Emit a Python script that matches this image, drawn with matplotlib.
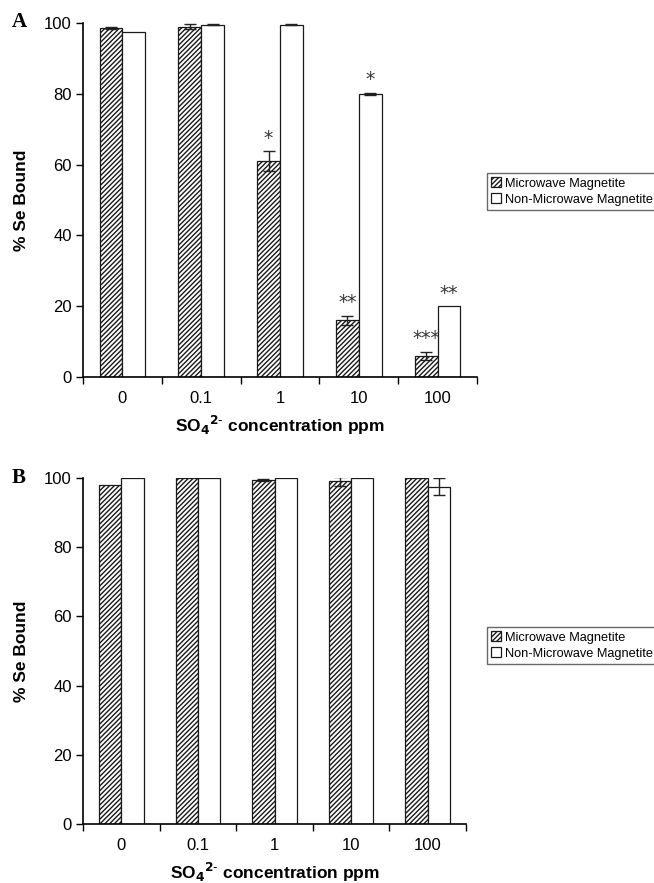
import matplotlib
matplotlib.use("Agg")
import matplotlib.pyplot as plt
import numpy as np

plt.rcParams['font.family'] = ['Liberation Sans', 'DejaVu Sans']
plt.rcParams['hatch.linewidth'] = 1.0

categories = ['0', '0.1', '1', '10', '100']
series_names = ['Microwave Magnetite', 'Non-Microwave Magnetite']

a_micro = [98.5, 99.0, 61.0, 16.0, 6.0]
a_micro_err = [0.3, 0.8, 2.8, 1.3, 1.2]
a_non = [97.5, 99.5, 99.5, 80.0, 20.0]
a_non_err = [0.0, 0.2, 0.2, 0.3, 0.0]
a_micro_stars = ['', '', '*', '**', '***']
a_non_stars = ['', '', '', '*', '**']

b_micro = [98.0, 100.0, 99.5, 99.0, 100.0]
b_micro_err = [0.0, 0.0, 0.3, 1.2, 0.0]
b_non = [100.0, 100.0, 100.0, 100.0, 97.5]
b_non_err = [0.0, 0.0, 0.0, 0.0, 2.5]
b_micro_stars = ['', '', '', '', '']
b_non_stars = ['', '', '', '', '']

yticks = [0, 20, 40, 60, 80, 100]

W, H = 654, 883
fig = plt.figure(figsize=(W / 100, H / 100), dpi=100)

def px_rect(left, right, top, bottom):
    return [left / W, 1 - bottom / H, (right - left) / W, (bottom - top) / H]

def panel(rect, letter, letter_y, micro, micro_err, non, non_err, mstars, nstars, legend_top):
    ax = fig.add_axes(rect)
    x = np.arange(len(categories))
    w = 0.29
    ax.bar(x - w/2, micro, w, color='white', edgecolor='#1a1a1a', hatch='///////',
           linewidth=0.9, label=series_names[0], zorder=2)
    ax.bar(x + w/2, non, w, color='white', edgecolor='#1a1a1a',
           linewidth=0.9, label=series_names[1], zorder=2)
    for xs, vals, errs in ((x - w/2, micro, micro_err), (x + w/2, non, non_err)):
        for xi, v, e in zip(xs, vals, errs):
            if e > 0:
                ax.errorbar(xi, v, yerr=e, fmt='none', ecolor='#222222', elinewidth=1,
                            capsize=4, capthick=1, zorder=3)
    for xs, vals, errs, stars in ((x - w/2, micro, micro_err, mstars),
                                  (x + w/2, non, non_err, nstars)):
        for xi, v, e, s in zip(xs, vals, errs, stars):
            if s:
                ax.text(xi, v + e + 1.0, s, ha='center', va='bottom', fontsize=13.5,
                        color='#333333', family='DejaVu Sans')
    ax.set_xlim(-0.5, len(categories) - 0.5)
    ax.set_ylim(0, 100)
    ax.set_yticks(yticks)
    ax.set_xticks(x)
    ax.set_xticklabels(categories)
    ax.set_xticks(np.arange(-0.5, len(categories)), minor=True)
    ax.tick_params(axis='x', which='major', length=0, labelsize=12, pad=10)
    ax.tick_params(axis='x', which='minor', length=5, direction='out', width=1)
    ax.tick_params(axis='y', length=5, width=1, labelsize=12, pad=3)
    for sp in ['top', 'right']:
        ax.spines[sp].set_visible(False)
    for sp in ['left', 'bottom']:
        ax.spines[sp].set_linewidth(1.2)
    ax.set_ylabel('% Se Bound', fontsize=12.5, fontweight='bold', labelpad=11)
    ax.set_xlabel(r'SO$_\mathbf{4}$$^\mathbf{2\text{-}}$ concentration ppm', fontsize=12.5,
                  fontweight='bold', labelpad=6)
    fig.text(12 / W, 1 - letter_y / H, letter, fontsize=15, fontweight='bold',
             family='Liberation Serif', va='center')
    leg = ax.legend(loc='upper left', bbox_to_anchor=(487 / W, 1 - legend_top / H),
                    bbox_transform=fig.transFigure, fontsize=9.2,
                    frameon=True, fancybox=False, edgecolor='#444444',
                    handlelength=0.75, handleheight=0.75, handletextpad=0.3,
                    borderpad=0.35, labelspacing=0.3, borderaxespad=0)
    leg.get_frame().set_linewidth(1.0)
    return ax

panel(px_rect(83, 477, 23, 377), 'A', 22, a_micro, a_micro_err, a_non, a_non_err,
      a_micro_stars, a_non_stars, 173)
panel(px_rect(83, 466, 478, 824), 'B', 478, b_micro, b_micro_err, b_non, b_non_err,
      b_micro_stars, b_non_stars, 627)

fig.savefig('out.png', dpi=100)
